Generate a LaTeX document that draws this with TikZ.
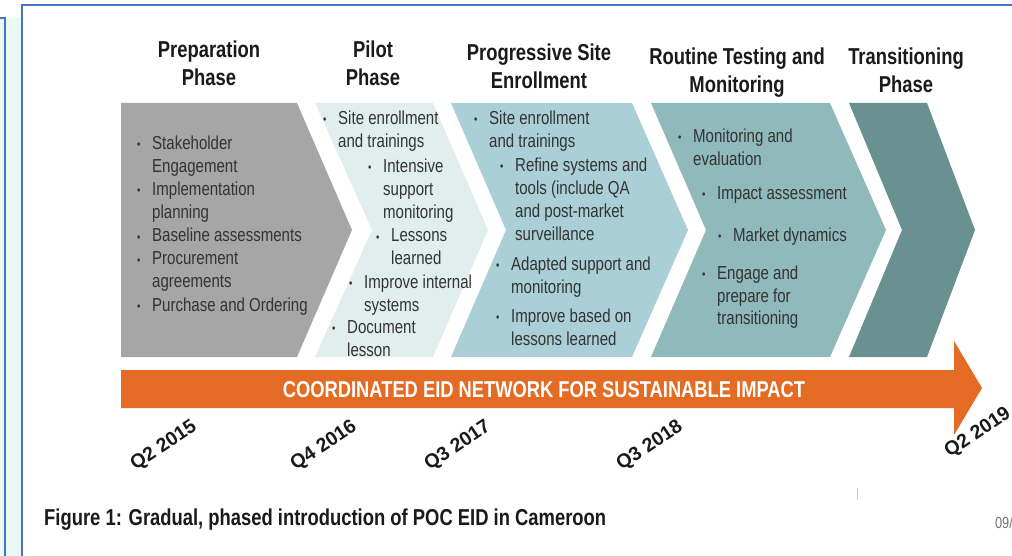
\documentclass[tikz,border=0pt]{standalone}
\usepackage{fontspec}
\setmainfont{Liberation Sans}[FakeStretch=0.8]
\newfontfamily\datefont{Liberation Sans}
\usepackage{xcolor}
\definecolor{framecol}{HTML}{4A72C4}
\definecolor{mint}{HTML}{EAF8F4}
\definecolor{prepcol}{HTML}{A7A6A6}
\definecolor{pilotcol}{HTML}{E1EEEE}
\definecolor{enrolcol}{HTML}{AACFD6}
\definecolor{routinecol}{HTML}{90B9BC}
\definecolor{transcol}{HTML}{6A9191}
\definecolor{bannercol}{HTML}{E36B24}
\definecolor{bodytext}{HTML}{333333}
\definecolor{headtext}{HTML}{1A1A1A}
\newcommand{\bitem}[1]{\makebox[15pt][l]{\raisebox{1pt}{\fontsize{12}{12}\selectfont\textbullet}}\begin{tabular}[t]{@{}l@{}}#1\end{tabular}}
\newcommand{\headlines}[1]{\begin{tabular}[t]{@{}c@{}}#1\end{tabular}}
\tikzset{
    phase-title/.style = {inner sep=0pt, anchor=base, text=headtext, font=\fontsize{23}{28}\selectfont\bfseries},
    phase-item/.style = {inner sep=0pt, anchor=base west, text=bodytext, font=\fontsize{18.8}{23}\selectfont},
    date-label/.style = {inner sep=0pt, rotate=34, text=headtext, font=\datefont\fontsize{19.5}{19.5}\selectfont\bfseries},
}
\begin{document}
\begin{tikzpicture}[x=1pt, y=-1pt]
\useasboundingbox (0,0) rectangle (1012,556);
\fill[white] (0,0) rectangle (1012,556);
\fill[mint] (0,18) rectangle (21,556);
\draw[framecol, line width=1.2pt] (0,18) -- (5,18) -- (5,556);
\draw[framecol, line width=1.8pt] (22,556) -- (22,5) -- (1012,5);

\fill[prepcol] (121,103) -- (297,103) -- (352,230) -- (297,357) -- (121,357) -- cycle;
\fill[pilotcol] (315,103) -- (433,103) -- (488,230) -- (433,357) -- (315,357) -- (372,230) -- cycle;
\fill[enrolcol] (451,103) -- (632,103) -- (688,230) -- (632,357) -- (451,357) -- (506,230) -- cycle;
\fill[routinecol] (651,103) -- (830,103) -- (886,230) -- (830,357) -- (651,357) -- (706,230) -- cycle;
\fill[transcol] (849,103) -- (927,103) -- (975,230) -- (927,357) -- (849,357) -- (902,230) -- cycle;

\node[phase-title] (prep-title) at (209,58) {\headlines{Preparation\\Phase}};
\node[phase-title] (pilot-title) at (373,58) {\headlines{Pilot\\Phase}};
\node[phase-title] (enrol-title) at (539,61) {\headlines{Progressive Site\\Enrollment}};
\node[phase-title] (routine-title) at (737,65) {\headlines{Routine Testing and\\Monitoring}};
\node[phase-title] (trans-title) at (906,65) {\headlines{Transitioning\\Phase}};

\node[phase-item, text=black!80] (prep-a) at (137,150) {\bitem{Stakeholder\\Engagement}};
\node[phase-item, text=black!80] (prep-b) at (137,196) {\bitem{Implementation\\planning}};
\node[phase-item, text=black!80] (prep-c) at (137,242) {\bitem{Baseline assessments}};
\node[phase-item, text=black!80] (prep-d) at (137,265) {\bitem{Procurement\\agreements}};
\node[phase-item, text=black!80] (prep-e) at (137,311) {\bitem{Purchase and Ordering}};

\node[phase-item] (pilot-a) at (323,125) {\bitem{Site enrollment\\and trainings}};
\node[phase-item] (pilot-b) at (368,173) {\bitem{Intensive\\support\\monitoring}};
\node[phase-item] (pilot-c) at (376,242) {\bitem{Lessons\\learned}};
\node[phase-item] (pilot-d) at (349,288) {\bitem{Improve internal\\systems}};
\node[phase-item] (pilot-e) at (332,333) {\bitem{Document\\lesson}};

\node[phase-item] (enrol-a) at (474,125) {\bitem{Site enrollment\\and trainings}};
\node[phase-item] (enrol-b) at (500,172) {\bitem{Refine systems and\\tools (include QA\\and post-market\\surveillance}};
\node[phase-item] (enrol-c) at (496,270) {\bitem{Adapted support and\\monitoring}};
\node[phase-item] (enrol-d) at (496,322) {\bitem{Improve based on\\lessons learned}};

\node[phase-item] (routine-a) at (678,143) {\bitem{Monitoring and\\evaluation}};
\node[phase-item] (routine-b) at (702,200) {\bitem{Impact assessment}};
\node[phase-item] (routine-c) at (718,241) {\bitem{Market dynamics}};
\node[phase-item] (routine-d) at (702,279) {\bitem{Engage and\\prepare for\\transitioning}};

\fill[bannercol] (121,370) -- (954,370) -- (954,341) -- (982,388) -- (954,435) -- (954,408) -- (121,408) -- cycle;
\node[inner sep=0pt, anchor=base, text=white, font=\fontsize{22.9}{22.9}\selectfont\bfseries] (banner) at (544,397) {COORDINATED EID NETWORK FOR SUSTAINABLE IMPACT};

\node[date-label] (d2015) at (164,446) {Q2 2015};
\node[date-label] (d2016) at (324,446) {Q4 2016};
\node[date-label] (d2017) at (458,446) {Q3 2017};
\node[date-label] (d2018) at (650,446) {Q3 2018};
\node[date-label] (d2019) at (978,433) {Q2 2019};

\draw[black!20, line width=1pt] (857,488) -- (857,500);
\node[inner sep=0pt, anchor=base west, text=headtext, font=\fontsize{23}{23}\selectfont\bfseries] (caption) at (44,525) {Figure 1: Gradual, phased introduction of POC EID in Cameroon};
\node[inner sep=0pt, anchor=base east, text=black!55, font=\fontsize{16}{16}\selectfont] (page) at (1013,528) {09/};
\end{tikzpicture}
\end{document}
